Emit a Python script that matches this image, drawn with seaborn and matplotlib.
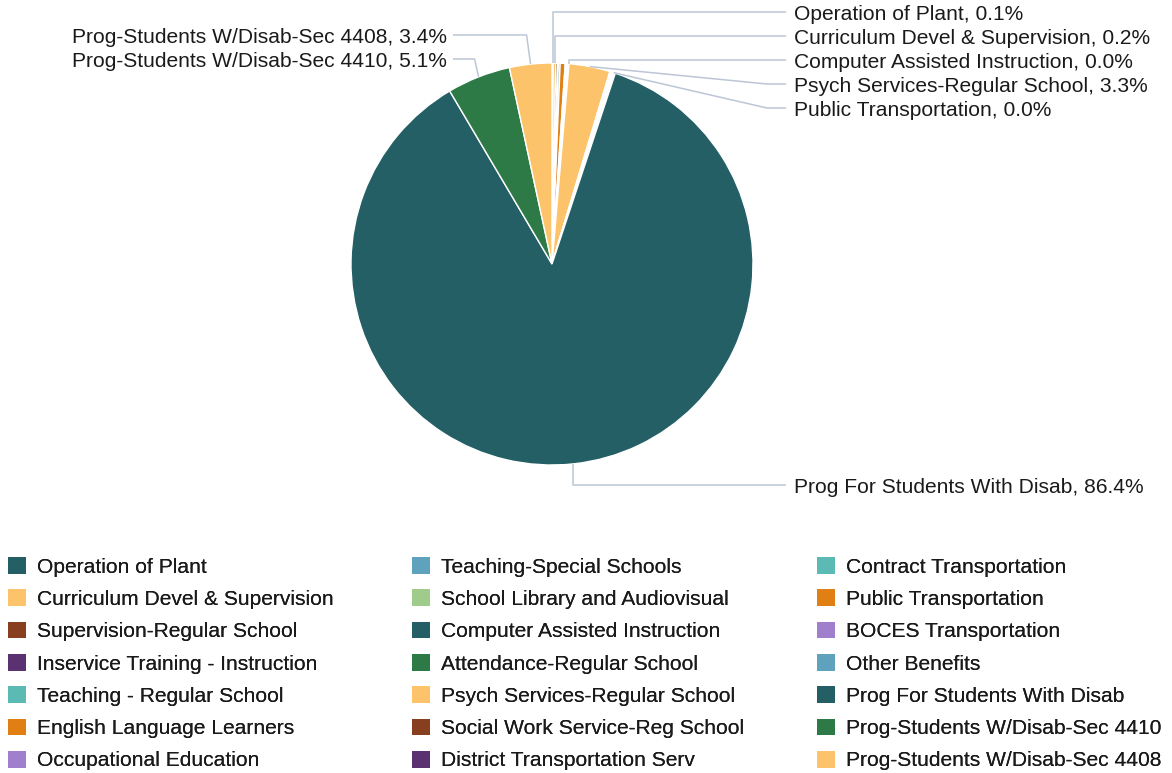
import numpy as np
import seaborn as sns
import matplotlib.pyplot as plt
from matplotlib.patches import Patch


# ----------------------------
# Data
# ----------------------------

categories = [
    "Operation of Plant", "Curriculum Devel & Supervision", "Supervision-Regular School",
    "Inservice Training - Instruction", "Teaching - Regular School", "English Language Learners",
    "Occupational Education", "Teaching-Special Schools", "School Library and Audiovisual",
    "Computer Assisted Instruction", "Attendance-Regular School", "Psych Services-Regular School",
    "Social Work Service-Reg School", "District Transportation Serv", "Contract Transportation",
    "Public Transportation", "BOCES Transportation", "Other Benefits",
    "Prog For Students With Disab", "Prog-Students W/Disab-Sec 4410", "Prog-Students W/Disab-Sec 4408",
]

shares = [
    0.10, 0.20, 0.15, 0.05, 0.15, 0.40, 0.10, 0.08, 0.08, 0.02, 0.02, 3.30,
    0.10, 0.10, 0.10, 0.02, 0.08, 0.05,
    86.40, 5.10, 3.40,
]

colors = [
    "#245f66", "#fcc36b", "#873f1f", "#5a3272", "#5cbab5", "#e07f14", "#a07fcc",
    "#5fa2bd", "#9fcb8b", "#245f66", "#2e7a47", "#fcc36b", "#873f1f", "#5a3272",
    "#5cbab5", "#e07f14", "#a07fcc", "#5fa2bd", "#245f66", "#2e7a47", "#fcc36b",
]

# labels that are drawn next to the pie
labelled = [
    "Operation of Plant", "Curriculum Devel & Supervision", "Computer Assisted Instruction",
    "Psych Services-Regular School", "Public Transportation", "Prog For Students With Disab",
    "Prog-Students W/Disab-Sec 4410", "Prog-Students W/Disab-Sec 4408",
]


# ----------------------------
# Layout (pixels, top-left origin)
# ----------------------------

W, H = 1172, 773
cx, cy, rad = 552, 264, 201
FS = 15.15

# label line y, side, crooked connector?
label_pos = {
    "Operation of Plant":             (12, "right", False),
    "Curriculum Devel & Supervision": (36, "right", False),
    "Computer Assisted Instruction":  (60, "right", False),
    "Psych Services-Regular School":  (84, "right", True),
    "Public Transportation":          (108, "right", True),
    "Prog For Students With Disab":   (485, "right", False),
    "Prog-Students W/Disab-Sec 4410": (59, "left", False),
    "Prog-Students W/Disab-Sec 4408": (35, "left", False),
}

legend_cols_x = [8, 412, 817]
legend_top = 557


# ----------------------------
# Figure
# ----------------------------

sns.set_theme(style="white")
plt.rcParams["font.family"] = ["Liberation Sans", "DejaVu Sans"]

fig = plt.figure(figsize=(W / 100, H / 100), dpi=100)
ax = fig.add_axes([0, 0, 1, 1])

ax.pie(
    shares,
    colors=colors,
    startangle=90,
    counterclock=False,
    center=(cx, H - cy),
    radius=rad,
    wedgeprops=dict(edgecolor="white", linewidth=1),
)
ax.set_xlim(0, W)
ax.set_ylim(0, H)
ax.axis("off")


# ----------------------------
# Data labels with connectors
# ----------------------------

vals = np.array(shares)
frac = vals / vals.sum()
mids = (np.cumsum(frac) - frac / 2) * 2 * np.pi
line_col = "#bcc6d6"

for name, val, th in zip(categories, shares, mids):
    if name not in labelled:
        continue
    ly, side, crook = label_pos[name]
    ex = cx + rad * np.sin(th)
    ey = cy - rad * np.cos(th)
    if side == "right":
        end_x = 786
        bx = 767 if crook else ex
        tx, ha = 794, "left"
    else:
        end_x = 453
        bx = ex - 4
        tx, ha = 447, "right"
    xs = [ex, bx, end_x]
    ys = [ey, ly, ly]
    ax.plot(xs, [H - y for y in ys], color=line_col, lw=1.1, solid_capstyle="butt")
    ax.text(tx, H - ly - 2.5, f"{name}, {val:.1f}%", ha=ha, va="center",
            fontsize=FS, color="#1a1a1a")


# ----------------------------
# Legend (one block per column)
# ----------------------------

handles = [Patch(facecolor=c, edgecolor="none", label=n) for n, c in zip(categories, colors)]
for i, x0 in enumerate(legend_cols_x):
    leg = fig.legend(
        handles=handles[i * 7:(i + 1) * 7],
        loc="upper left",
        bbox_to_anchor=(x0 / W, 1 - legend_top / H),
        frameon=False,
        fontsize=FS,
        borderpad=0,
        borderaxespad=0,
        handlelength=0.85,
        handleheight=0.85,
        handletextpad=0.55,
        labelspacing=0.6,
        labelcolor="#1a1a1a",
    )
    fig.add_artist(leg)

fig.savefig("out.png", dpi=100)
